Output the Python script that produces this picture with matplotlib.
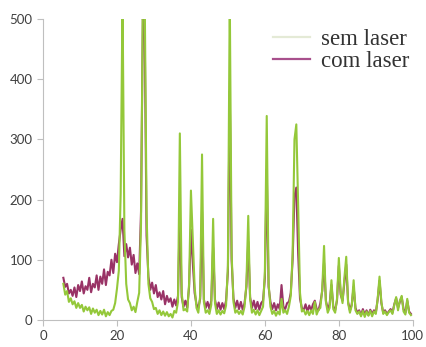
import numpy as np
import matplotlib as mpl
mpl.use('Agg')
import matplotlib.pyplot as plt
from matplotlib.lines import Line2D

# 2theta scan, 0.5 deg steps from 5.5 to 99.5
two_theta = np.arange(5.5, 99.6, 0.5)

# sem laser (green), one row = 5 degrees
sem_laser = [
    60, 42, 48, 30, 36, 26, 31, 20, 28, 20,          # 5.5 - 10.0
    25, 14, 22, 16, 21, 10, 19, 12, 17, 8,           # 10.5 - 15.0
    15, 9, 17, 6, 13, 8, 15, 17, 28, 52,             # 15.5 - 20.0
    82, 210, 540, 150, 60, 34, 28, 16, 22, 13,       # 20.5 - 25.0
    30, 45, 160, 540, 540, 180, 60, 36, 30, 18,      # 25.5 - 30.0
    20, 10, 16, 8, 14, 7, 13, 6, 10, 4,              # 30.5 - 35.0
    15, 12, 30, 310, 45, 16, 18, 14, 60, 215,        # 35.5 - 40.0
    135, 55, 20, 12, 40, 275, 30, 12, 16, 10,        # 40.5 - 45.0
    25, 168, 28, 10, 16, 9, 15, 11, 24, 90,          # 45.5 - 50.0
    540, 110, 30, 12, 16, 10, 15, 9, 22, 60,         # 50.5 - 55.0
    173, 35, 12, 17, 9, 16, 8, 15, 22, 80,           # 55.5 - 60.0
    339, 60, 22, 10, 15, 7, 14, 9, 35, 12,           # 60.5 - 65.0
    16, 10, 22, 40, 110, 300, 325, 190, 45, 14,      # 65.5 - 70.0
    17, 9, 15, 8, 16, 10, 30, 9, 17, 20,             # 70.5 - 75.0
    50, 123, 30, 12, 20, 66, 18, 12, 35, 103,        # 75.5 - 80.0
    45, 28, 70, 105, 28, 12, 24, 66, 16, 10,         # 80.5 - 85.0
    14, 6, 15, 5, 14, 7, 15, 6, 14, 10,              # 85.5 - 90.0
    35, 72, 30, 10, 14, 8, 13, 16, 10, 25,           # 90.5 - 95.0
    38, 16, 32, 40, 14, 9, 35, 12, 8,                # 95.5 - 99.5
]

# com laser (purple)
com_laser = [
    70, 55, 60, 44, 50, 40, 54, 38, 58, 48,
    64, 44, 56, 50, 70, 46, 60, 54, 74, 50,
    72, 60, 84, 58, 80, 74, 100, 78, 110, 96,
    126, 150, 168, 106, 126, 104, 120, 92, 108, 78,
    94, 76, 180, 500, 480, 140, 72, 50, 62, 44,
    58, 38, 46, 34, 48, 26, 40, 30, 36, 22,
    34, 24, 40, 180, 38, 22, 32, 20, 55, 150,
    95, 45, 26, 20, 35, 180, 34, 20, 30, 18,
    32, 120, 34, 18, 29, 17, 28, 18, 32, 80,
    380, 100, 36, 20, 32, 18, 30, 17, 28, 55,
    130, 38, 20, 32, 18, 30, 17, 28, 32, 70,
    250, 55, 30, 18, 28, 16, 26, 18, 58, 22,
    18, 28, 30, 45, 100, 206, 220, 110, 35, 20,
    16, 26, 14, 24, 16, 26, 32, 18, 16, 28,
    48, 95, 32, 18, 26, 58, 22, 16, 32, 90,
    42, 32, 62, 92, 30, 16, 26, 55, 20, 12,
    16, 8, 18, 9, 16, 8, 17, 10, 16, 12,
    34, 65, 28, 12, 16, 10, 14, 18, 12, 26,
    36, 20, 30, 38, 18, 12, 32, 14, 10,
]

x_ticks = [0, 20, 40, 60, 80, 100]
y_ticks = [0, 100, 200, 300, 400, 500]

green = '#94c83a'
purple = '#993366'
axis_grey = '#bfbfbf'

fig = plt.figure(figsize=(4.26, 3.47), dpi=100)
ax = fig.add_axes([0.101, 0.078, 0.868, 0.867])

ax.plot(two_theta, com_laser, color=purple, lw=1.5, zorder=2)
ax.plot(two_theta, sem_laser, color=green, lw=1.5, zorder=3)

ax.set_xlim(0, 100)
ax.set_ylim(0, 500)
ax.set_xticks(x_ticks)
ax.set_yticks(y_ticks)

for s in ['top', 'right']:
    ax.spines[s].set_visible(False)
for s in ['left', 'bottom']:
    ax.spines[s].set_color(axis_grey)
    ax.spines[s].set_linewidth(0.8)
ax.tick_params(colors=axis_grey, length=4, width=0.8, direction='out',
               labelcolor='#404040', labelsize=9.5)
for lab in ax.get_xticklabels() + ax.get_yticklabels():
    lab.set_family('Lato')

handles = [Line2D([], [], color='#e4ead6', lw=1.6),
           Line2D([], [], color='#a8508c', lw=1.6)]
leg = ax.legend(handles, ['sem laser', 'com laser'], loc='upper right',
                bbox_to_anchor=(1.046, 1.035), frameon=False, handlelength=1.65,
                handletextpad=0.45, labelspacing=0.05,
                prop={'family': 'Liberation Serif', 'size': 16.5})
for t in leg.get_texts():
    t.set_color('#333333')

fig.savefig('out.png', dpi=100)
